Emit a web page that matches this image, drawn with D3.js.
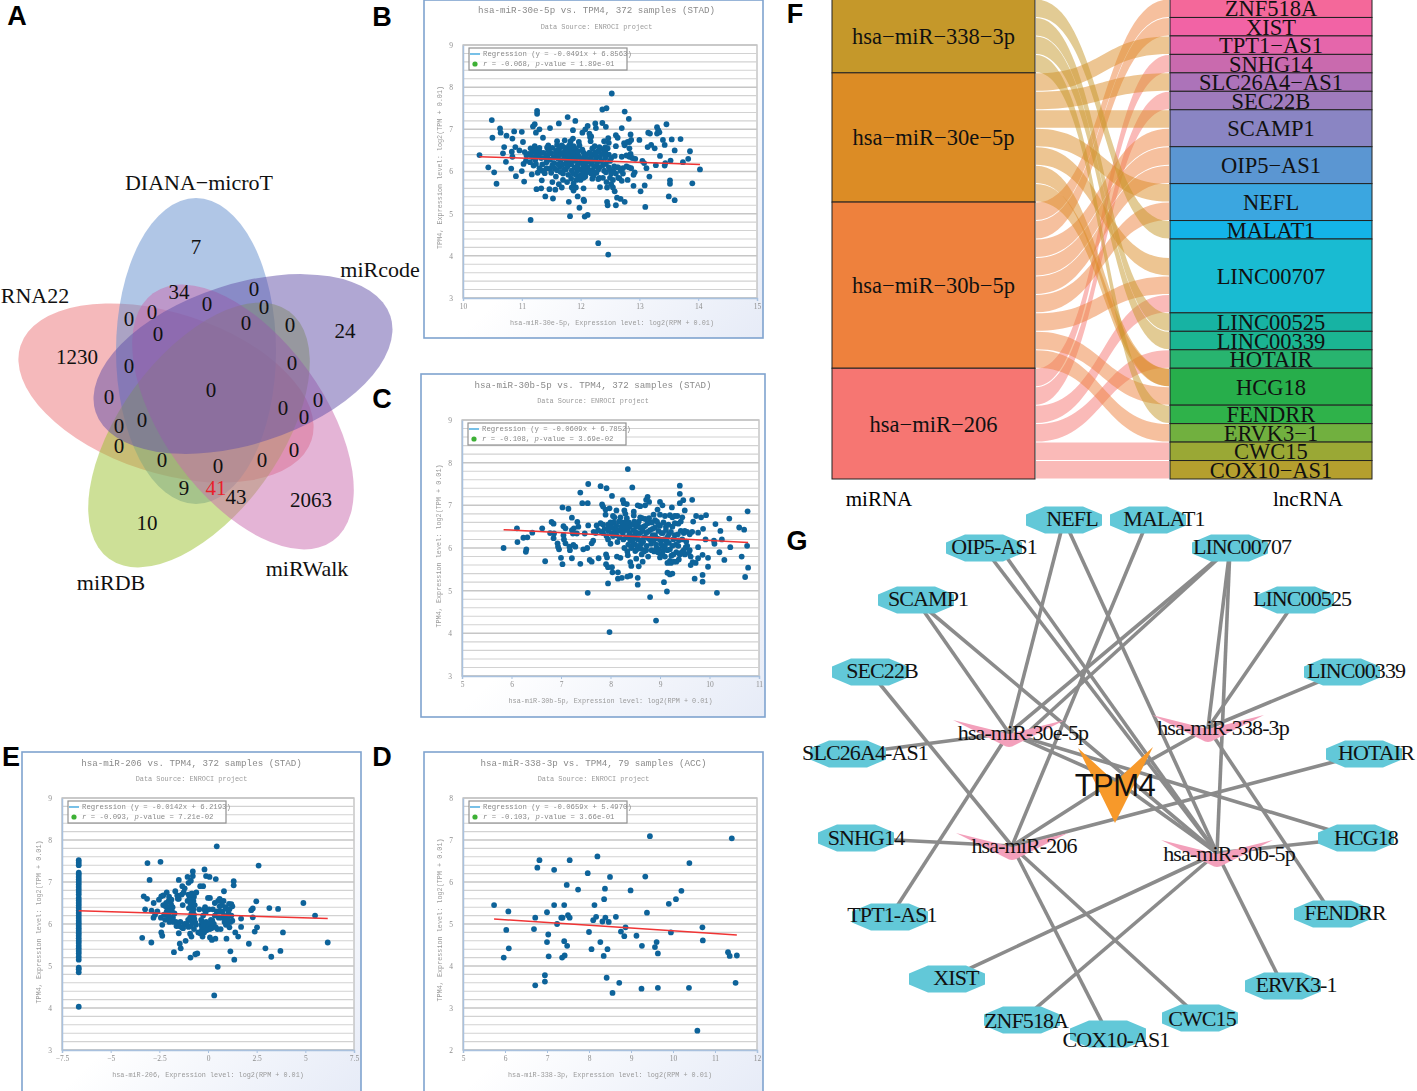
<!DOCTYPE html>
<html><head><meta charset="utf-8"><title>TPM4 ceRNA figure</title>
<script src="https://cdn.jsdelivr.net/npm/d3@7/dist/d3.min.js"></script>
<style>html,body{margin:0;padding:0;background:#fff}svg{display:block}</style></head>
<body><svg id="fig" width="1417" height="1091" viewBox="0 0 1417 1091"></svg>
<script>
// ---------- Venn ----------
const vennSets = ["RNA22","DIANA−microT","miRDB","miRWalk","miRcode"];
const vennColors = ["#eb7377","#618dcd","#9bc12f","#c969ad","#614fa7"];
const vennCounts = [7,34,0,0,0,0,0,0,0,0,24,1230,0,0,0,0,0,0,0,0,0,0,0,0,0,0,9,41,43,2063,10];

// ---------- Scatter values [x, y] ----------
const pointsB = [[10.28,6.39],[10.43,6.1],[10.53,5.98],[10.57,5.71],[10.49,7.22],[10.5,6.8],[10.63,7.02],[10.64,6.92],[10.74,6.85],[10.7,6.58],[10.68,6.43],[10.73,6.23],[10.82,6.07],[10.84,6.78],[10.87,6.95],[10.83,6.47],[10.84,6.35],[10.89,6.58],[10.9,5.89],[10.96,6.5],[11.0,6.94],[11.02,6.7],[11.0,6.01],[11.04,5.76],[11.05,6.46],[11.08,6.38],[11.03,6.18],[11.07,6.25],[11.15,4.85],[11.26,7.44],[11.26,7.37],[11.22,7.12],[11.19,7.07],[11.3,7.0],[11.24,6.92],[11.36,6.8],[11.48,7.03],[11.63,7.14],[11.78,7.29],[11.91,7.2],[11.87,6.98],[11.15,6.55],[11.18,6.47],[11.22,6.6],[11.25,6.4],[11.28,6.5],[11.32,6.45],[11.19,6.33],[11.23,6.28],[11.14,6.22],[11.2,6.14],[11.17,5.93],[11.27,5.97],[11.25,5.58],[11.33,5.6],[11.34,5.79],[11.39,5.96],[11.4,5.41],[11.35,6.17],[11.4,6.33],[11.43,6.57],[11.46,6.5],[11.5,6.43],[11.48,6.28],[11.52,6.15],[11.47,6.07],[11.5,5.97],[11.47,5.58],[11.53,5.36],[11.52,5.75],[11.57,5.57],[11.58,5.88],[11.6,6.03],[11.58,6.37],[11.6,6.5],[11.6,6.63],[11.6,6.72],[11.64,6.4],[11.66,6.27],[11.65,6.12],[11.66,5.99],[11.63,5.7],[11.68,5.62],[11.7,5.8],[11.72,6.35],[11.73,6.47],[11.71,6.58],[11.73,6.74],[11.76,6.22],[11.75,6.05],[11.77,5.75],[11.8,5.28],[11.82,4.94],[11.8,6.4],[11.82,6.5],[11.82,6.65],[11.85,6.34],[11.84,6.17],[11.85,6.02],[11.84,5.83],[11.85,5.62],[11.88,5.55],[11.87,6.78],[11.9,6.55],[11.9,6.42],[11.91,6.25],[11.9,6.1],[11.92,5.92],[11.93,5.8],[11.92,5.62],[11.95,5.41],[11.97,6.7],[11.98,5.14],[11.96,6.38],[11.98,6.2],[12.0,6.05],[12.0,5.92],[12.0,5.8],[12.03,6.92],[12.05,6.45],[12.04,6.3],[12.05,6.12],[12.05,5.99],[12.05,5.85],[12.05,5.6],[12.05,5.33],[12.07,4.93],[12.12,4.97],[12.06,5.3],[12.08,7.0],[12.12,7.08],[12.1,6.4],[12.13,6.25],[12.12,6.1],[12.1,5.97],[12.15,6.9],[12.18,6.83],[12.2,6.55],[12.18,6.35],[12.18,6.18],[12.2,6.03],[12.22,5.9],[12.2,5.83],[12.25,7.14],[12.26,7.03],[12.25,6.46],[12.26,6.28],[12.25,6.12],[12.27,5.97],[12.3,4.3],[12.3,5.82],[12.32,6.58],[12.33,6.35],[12.32,6.1],[12.33,5.63],[12.37,7.15],[12.37,7.47],[12.44,7.5],[12.38,6.53],[12.38,5.85],[12.4,6.72],[12.42,6.5],[12.42,6.32],[12.43,6.18],[12.43,5.98],[12.44,5.75],[12.45,5.62],[12.43,7.06],[12.47,4.03],[12.46,5.2],[12.45,5.28],[12.47,6.79],[12.48,6.4],[12.5,6.25],[12.5,6.04],[12.52,5.95],[12.53,7.85],[12.52,5.7],[12.55,5.62],[12.56,6.01],[12.58,5.53],[12.58,6.37],[12.6,6.6],[12.6,6.86],[12.6,5.2],[12.62,5.38],[12.63,6.8],[12.64,6.1],[12.66,5.84],[12.68,5.35],[12.7,6.35],[12.7,7.03],[12.72,5.95],[12.75,7.42],[12.74,6.67],[12.75,5.28],[12.78,6.12],[12.8,5.8],[12.82,7.25],[12.83,6.7],[12.83,6.55],[12.85,6.88],[12.85,6.42],[12.86,6.08],[12.9,5.92],[12.92,5.98],[12.93,6.3],[12.9,5.66],[13.0,6.75],[13.02,5.53],[13.05,6.25],[13.08,6.2],[13.1,5.16],[13.09,5.67],[13.12,6.08],[13.14,6.58],[13.15,6.92],[13.18,6.9],[13.17,5.88],[13.2,6.63],[13.26,6.55],[13.28,6.15],[13.3,6.9],[13.3,7.05],[13.32,6.98],[13.34,6.93],[13.35,6.37],[13.4,6.75],[13.43,6.63],[13.43,6.14],[13.44,6.2],[13.46,7.12],[13.5,5.41],[13.52,5.71],[13.52,5.79],[13.53,6.26],[13.55,6.76],[13.6,5.32],[13.6,6.5],[13.7,6.77],[13.74,6.22],[13.83,6.3],[13.86,6.48],[13.9,5.72],[14.03,6.05],
[11.12,6.42],[11.16,6.38],[11.22,6.52],[11.28,6.36],[11.3,6.56],[11.33,6.32],[11.37,6.44],[11.42,6.22],[11.44,6.38],[11.45,6.62],[11.52,6.56],[11.54,6.33],[11.55,6.2],[11.56,6.07],[11.58,6.47],[11.62,6.3],[11.62,6.17],[11.64,6.55],[11.67,6.44],[11.68,6.62],[11.7,6.17],[11.7,5.95],[11.72,6.05],[11.74,6.3],[11.76,6.54],[11.78,6.42],[11.78,6.12],[11.79,5.92],[11.8,6.6],[11.8,6.3],[11.82,6.22],[11.83,6.72],[11.86,6.45],[11.86,6.28],[11.87,5.95],[11.88,5.72],[11.88,6.6],[11.92,6.52],[11.93,6.33],[11.94,6.02],[11.95,6.15],[11.96,6.48],[11.97,5.85],[11.98,6.62],[12.0,6.32],[12.02,6.22],[12.03,6.52],[12.04,5.9],[12.06,6.07],[12.07,6.38],[12.08,5.88],[12.1,6.22],[12.12,6.3],[12.14,6.02],[12.15,6.45],[12.16,6.82],[12.17,6.72],[12.18,5.95],[12.2,6.25],[12.22,6.42],[12.23,6.12],[12.24,6.6],[12.26,6.38],[12.28,6.2],[12.3,6.05],[12.3,6.48],[12.32,5.85],[12.35,6.25],[12.36,6.42],[12.38,6.15],[12.4,6.02],[12.42,6.58],[12.44,6.4],[12.46,6.55],[12.48,6.1],[12.48,6.68],[12.5,5.85],[12.52,6.32],[12.55,5.8],[12.57,6.12],[12.6,5.95],[12.62,6.1],[12.64,5.85],[12.68,6.02],[12.7,5.78],[12.72,6.08],[12.75,6.62],[12.78,6.38],[12.8,6.7],[12.82,6.1],[12.83,6.35],[12.86,6.75],[12.88,6.32],[11.24,6.18],[11.3,6.08],[11.35,6.02],[11.42,6.08],[11.45,6.5]];
const pointsC = [[5.84,6.0],[6.11,6.46],[6.12,6.14],[6.24,6.24],[6.32,6.25],[6.3,5.97],[6.29,5.91],[6.42,6.36],[6.62,6.46],[6.68,5.69],[6.78,6.35],[6.81,6.61],[6.85,6.57],[6.86,6.34],[6.85,6.23],[6.93,6.11],[6.94,6.03],[6.96,5.97],[7.0,5.77],[7.03,5.62],[7.03,6.95],[7.15,6.92],[7.05,6.51],[7.09,6.46],[7.05,6.3],[7.06,6.2],[7.09,6.11],[7.17,6.03],[7.18,5.95],[7.25,6.07],[7.29,6.03],[7.22,6.71],[7.22,6.42],[7.26,6.46],[7.24,6.34],[7.33,6.61],[7.35,6.5],[7.32,6.34],[7.22,5.76],[7.39,5.63],[7.39,7.3],[7.43,7.05],[7.54,7.05],[7.55,7.5],[7.54,4.95],[7.45,5.97],[7.53,6.0],[7.55,6.53],[7.48,6.34],[7.58,5.72],[7.62,5.68],[7.62,6.11],[7.65,6.17],[7.66,6.38],[7.72,6.53],[7.76,5.76],[7.8,7.45],[7.8,6.58],[7.83,7.02],[7.85,6.97],[7.85,6.35],[7.9,6.9],[7.92,7.4],[7.9,6.78],[7.92,6.28],[7.91,5.85],[7.93,5.78],[7.91,5.62],[7.95,5.55],[7.95,6.55],[7.96,6.4],[7.95,5.17],[7.98,4.03],[7.98,6.93],[8.0,6.1],[8.02,6.35],[8.03,7.22],[8.03,5.55],[8.04,5.43],[8.05,6.75],[8.07,6.6],[8.08,6.45],[8.12,6.88],[8.12,6.3],[8.14,6.14],[8.13,5.8],[8.15,5.43],[8.15,5.28],[8.2,6.4],[8.2,5.77],[8.23,5.3],[8.2,6.72],[8.25,7.12],[8.27,7.05],[8.28,6.88],[8.27,6.55],[8.25,6.35],[8.28,6.0],[8.3,6.8],[8.33,6.7],[8.33,7.03],[8.35,7.85],[8.32,6.25],[8.34,5.92],[8.35,5.83],[8.34,5.33],[8.38,6.5],[8.38,6.35],[8.4,6.18],[8.4,5.67],[8.42,5.58],[8.4,5.35],[8.44,7.42],[8.47,6.85],[8.47,6.76],[8.46,6.42],[8.48,6.28],[8.5,6.08],[8.5,5.93],[8.52,5.75],[8.55,7.0],[8.55,6.55],[8.55,6.2],[8.55,5.3],[8.55,5.14],[8.57,5.57],[8.6,6.98],[8.6,6.72],[8.6,6.35],[8.62,6.1],[8.63,5.85],[8.65,5.68],[8.67,6.5],[8.68,6.25],[8.7,6.68],[8.7,7.0],[8.72,7.13],[8.73,6.05],[8.75,7.2],[8.75,6.38],[8.76,5.8],[8.78,7.08],[8.8,6.6],[8.8,6.2],[8.8,4.85],[8.83,5.95],[8.85,6.45],[8.87,6.78],[8.9,6.65],[8.9,6.3],[8.92,4.3],[8.93,6.0],[8.95,6.9],[8.96,5.9],[8.97,6.55],[9.0,7.08],[9.0,6.78],[9.0,6.2],[9.0,5.78],[9.03,5.85],[9.05,7.0],[9.06,6.35],[9.05,6.05],[9.07,5.95],[9.08,5.2],[9.1,6.75],[9.12,6.5],[9.14,4.98],[9.13,6.15],[9.15,5.65],[9.15,5.42],[9.18,6.32],[9.2,6.77],[9.2,5.97],[9.2,5.38],[9.22,5.65],[9.24,6.95],[9.25,6.5],[9.25,6.05],[9.25,5.4],[9.27,5.85],[9.3,6.3],[9.3,6.75],[9.33,5.68],[9.37,6.57],[9.37,6.05],[9.38,5.73],[9.4,7.46],[9.4,7.27],[9.4,7.05],[9.42,6.4],[9.44,5.9],[9.47,7.12],[9.45,6.72],[9.48,6.35],[9.5,6.88],[9.5,5.85],[9.53,6.15],[9.55,6.05],[9.6,6.32],[9.6,5.95],[9.62,5.8],[9.62,5.6],[9.65,7.13],[9.65,6.38],[9.66,5.67],[9.67,6.62],[9.7,5.28],[9.72,5.65],[9.73,6.75],[9.77,6.36],[9.77,6.02],[9.77,5.76],[9.83,6.72],[9.86,5.84],[9.86,5.37],[9.86,5.21],[9.87,6.45],[9.92,6.2],[9.93,6.77],[9.97,5.77],[9.97,5.56],[10.09,6.17],[10.1,6.1],[10.12,6.56],[10.15,4.95],[10.2,5.9],[10.22,6.4],[10.25,6.2],[10.3,5.72],[10.4,6.69],[10.42,6.02],[10.6,6.48],[10.65,5.8],[10.7,6.43],[10.72,5.32],[10.76,6.05],[10.77,6.86],[10.78,5.54],
[7.7,6.35],[7.75,6.42],[7.82,6.38],[7.85,6.55],[7.88,6.45],[7.95,6.2],[7.97,6.48],[8.0,6.6],[8.03,6.48],[8.05,6.28],[8.08,6.72],[8.1,6.38],[8.12,6.52],[8.15,6.42],[8.17,6.62],[8.18,6.25],[8.22,6.5],[8.24,6.6],[8.26,6.2],[8.29,6.42],[8.3,6.5],[8.32,6.62],[8.35,6.42],[8.36,6.08],[8.37,6.6],[8.4,6.3],[8.42,6.0],[8.44,6.55],[8.45,6.2],[8.46,6.1],[8.48,6.62],[8.5,6.38],[8.52,6.5],[8.53,5.97],[8.55,6.35],[8.57,6.62],[8.58,6.05],[8.6,6.48],[8.6,6.18],[8.62,5.98],[8.64,6.7],[8.65,6.4],[8.66,6.15],[8.68,5.92],[8.7,6.52],[8.72,6.35],[8.72,5.95],[8.75,6.58],[8.77,6.22],[8.78,6.7],[8.8,6.42],[8.82,6.1],[8.84,6.6],[8.85,6.3],[8.87,6.18],[8.88,5.92],[8.9,6.48],[8.92,6.08],[8.94,6.62],[8.95,6.22],[8.97,6.4],[8.98,5.97],[9.0,6.52],[9.02,6.1],[9.03,6.35],[9.05,5.85],[9.07,6.6],[9.08,6.2],[9.1,6.05],[9.1,5.8],[9.12,6.42],[9.15,6.25],[9.15,5.95],[9.17,6.55],[9.18,6.12],[9.2,5.7],[9.22,6.38],[9.23,5.82],[9.25,6.72],[9.27,6.2],[9.28,5.68],[9.3,6.58],[9.32,6.08],[9.33,5.9],[9.35,6.75],[9.36,6.32],[9.38,6.18],[9.4,5.85],[9.42,6.62],[9.45,6.2],[9.48,5.95],[9.5,6.4],[9.52,6.02],[9.55,6.38],[9.58,5.88]];
const pointsE = [[-3.11,7.45],[-2.44,7.48],[-3.0,7.05],[-3.3,6.66],[-3.13,6.6],[-2.79,6.5],[-3.23,6.35],[-2.9,6.32],[-3.38,5.67],[-2.91,5.56],[-2.8,6.15],[-2.72,6.22],[-2.6,6.3],[-2.52,6.58],[-2.4,6.66],[-2.3,6.68],[-2.12,6.75],[-2.42,6.15],[-2.35,5.98],[-2.4,5.8],[-2.35,5.72],[-2.18,6.42],[-2.12,6.3],[-2.02,6.55],[-2.05,6.4],[-2.0,6.2],[-1.98,6.05],[-1.9,6.47],[-1.85,6.3],[-1.8,6.15],[-1.75,5.33],[-1.68,6.78],[-1.65,6.05],[-1.58,6.68],[-1.55,5.98],[-1.5,7.05],[-1.5,6.6],[-1.5,5.78],[-1.45,5.53],[-1.4,5.42],[-1.35,5.92],[-1.32,6.9],[-1.3,6.45],[-1.25,6.75],[-1.2,6.85],[-1.15,5.6],[-1.1,6.0],[-1.05,7.12],[-1.0,6.98],[-1.0,6.7],[-1.0,5.93],[-0.95,6.1],[-0.92,6.15],[-0.92,5.77],[-0.9,5.2],[-0.88,7.03],[-0.85,5.7],[-0.85,6.72],[-0.82,6.58],[-0.8,6.4],[-0.78,6.3],[-0.78,7.14],[-0.78,7.25],[-0.75,6.55],[-0.72,6.22],[-0.72,5.88],[-0.65,6.03],[-0.65,5.28],[-0.6,6.75],[-0.55,5.3],[-0.5,5.8],[-0.45,6.35],[-0.4,6.9],[-0.35,5.98],[-0.32,5.85],[-0.3,6.05],[-0.28,5.7],[-0.25,6.9],[-0.2,5.8],[-0.18,7.3],[-0.15,6.4],[-0.12,6.28],[-0.1,5.9],[-0.1,7.14],[-0.05,6.0],[0.0,6.62],[0.02,5.88],[0.05,6.35],[0.08,7.12],[0.1,6.62],[0.1,5.68],[0.12,5.94],[0.15,6.1],[0.2,5.62],[0.22,6.08],[0.3,6.0],[0.32,4.3],[0.35,6.5],[0.38,5.65],[0.4,7.07],[0.45,7.85],[0.45,6.3],[0.48,5.88],[0.5,4.98],[0.52,6.55],[0.55,6.15],[0.6,6.6],[0.65,5.88],[0.7,6.15],[0.72,6.45],[0.8,6.55],[0.82,6.78],[0.85,6.05],[0.9,6.4],[0.95,5.65],[1.0,6.0],[1.05,6.25],[1.08,6.48],[1.1,5.92],[1.15,5.35],[1.2,6.47],[1.2,6.2],[1.25,6.08],[1.32,7.02],[1.32,6.92],[1.35,5.15],[1.4,5.8],[1.55,5.7],[1.7,6.13],[1.7,5.93],[2.1,5.53],[2.22,6.33],[2.3,6.37],[2.3,6.16],[2.4,5.82],[2.48,6.54],[2.52,5.92],[2.6,7.39],[2.95,5.42],[3.15,6.38],[3.25,5.22],[3.6,6.36],[3.72,5.36],[3.85,5.8],[4.9,6.5],[5.5,6.2],[6.15,5.56],
[-2.3,6.45],[-2.25,6.22],[-2.2,6.1],[-2.15,6.5],[-2.05,6.18],[-2.0,6.65],[-1.95,6.32],[-1.92,6.12],[-1.88,6.58],[-1.82,6.4],[-1.78,6.05],[-1.72,6.25],[-1.62,5.95],[-1.55,6.6],[-1.48,5.95],[-1.42,6.05],[-1.35,6.7],[-1.28,5.9],[-1.2,6.0],[-1.12,5.98],[-1.05,6.55],[-1.02,6.1],[-0.98,6.38],[-0.95,6.62],[-0.9,6.48],[-0.88,5.95],[-0.85,6.25],[-0.82,6.05],[-0.8,6.72],[-0.75,6.35],[-0.72,6.65],[-0.7,6.12],[-0.68,6.45],[-0.62,5.98],[-0.4,5.78],[-0.35,6.1],[-0.3,5.92],[-0.25,6.2],[-0.22,6.0],[-0.2,6.35],[-0.15,5.95],[-0.1,6.05],[-0.08,5.85],[0.0,5.98],[0.05,6.02],[0.1,5.88],[0.18,5.9],[0.25,6.35],[0.35,6.2],[0.4,5.92],[0.6,6.42],[0.62,6.3],[0.7,6.55],[0.75,6.3],[0.82,6.2],[0.9,6.08],[0.92,5.98],[1.0,6.35],[1.02,6.15],[1.1,6.35],[1.15,6.05],[1.25,6.42]];
const columnE = [4.03,4.85,4.92,4.96,5.15,5.22,5.3,5.36,5.42,5.48,5.55,5.6,5.66,5.72,5.78,5.84,5.9,5.96,6.02,6.08,6.14,6.2,6.26,6.32,6.38,6.44,6.5,6.56,6.62,6.7,6.76,6.82,6.88,6.94,7.0,7.06,7.12,7.18,7.22,7.4,7.46,7.52];
const pointsD = [[5.74,5.45],[6.08,5.3],[6.03,4.86],[6.09,4.42],[5.97,4.2],[6.82,6.52],[6.77,6.34],[6.72,5.15],[6.69,4.88],[6.72,3.54],[6.95,3.78],[6.95,3.63],[7.17,6.29],[7.54,6.52],[7.0,5.28],[7.17,5.45],[7.41,5.45],[7.03,4.75],[7.0,4.57],[7.04,4.23],[7.24,5.0],[7.34,5.15],[7.37,5.15],[7.5,5.21],[7.54,5.15],[7.41,4.59],[7.48,4.48],[7.42,4.25],[7.36,4.2],[7.47,5.93],[7.74,5.82],[7.97,6.21],[8.2,6.61],[8.5,6.12],[8.13,5.45],[8.38,5.84],[8.36,5.59],[8.17,5.17],[8.1,5.09],[8.39,5.15],[8.32,5.06],[8.47,5.05],[8.64,5.17],[8.0,4.81],[8.27,4.57],[8.06,4.4],[8.44,4.4],[8.35,4.24],[8.42,3.72],[8.72,3.6],[8.56,3.36],[8.87,4.92],[8.76,4.82],[8.84,4.71],[8.99,5.8],[9.13,4.72],[9.26,4.48],[9.25,3.46],[9.34,6.13],[9.45,7.09],[9.38,5.27],[9.57,4.45],[9.61,4.57],[9.64,4.3],[9.64,3.48],[9.9,5.48],[9.95,4.8],[10.07,5.59],[10.2,5.79],[10.39,6.45],[10.38,3.48],[10.58,2.46],[10.7,4.92],[10.71,4.61],[11.4,7.04],[11.31,4.33],[11.35,4.24],[11.52,4.25],[11.49,3.6]];
const seriesE = pointsE.concat(columnE.map(v => [-6.64, v]));

// ---------- Scatter texts and regressions ----------
const scatterNames = ["B","C","E","D"];
const scatterTitles = ["hsa-miR-30e-5p vs. TPM4, 372 samples (STAD)","hsa-miR-30b-5p vs. TPM4, 372 samples (STAD)","hsa-miR-206 vs. TPM4, 372 samples (STAD)","hsa-miR-338-3p vs. TPM4, 79 samples (ACC)"];
const scatterXTitles = ["hsa-miR-30e-5p, Expression level: log2(RPM + 0.01)","hsa-miR-30b-5p, Expression level: log2(RPM + 0.01)","hsa-miR-206, Expression level: log2(RPM + 0.01)","hsa-miR-338-3p, Expression level: log2(RPM + 0.01)"];
const regressionTexts = ["Regression (y = -0.0491x + 6.8563)","Regression (y = -0.0609x + 6.7852)","Regression (y = -0.0142x + 6.2193)","Regression (y = -0.0659x + 5.4970)"];
const corrTexts = ["= -0.068, p-value = 1.89e-01","= -0.108, p-value = 3.69e-02","= -0.093, p-value = 7.21e-02","= -0.103, p-value = 3.66e-01"];
const slopes = [-0.0491,-0.0609,-0.0142,-0.0659];
const intercepts = [6.8563,6.7852,6.2193,5.4970];
const xTickSets = [[10,11,12,13,14,15],[5,6,7,8,9,10,11],[-7.5,-5,-2.5,0,2.5,5,7.5],[5,6,7,8,9,10,11,12]];
const yTickSets = [[3,4,5,6,7,8,9],[3,4,5,6,7,8,9],[3,4,5,6,7,8,9],[2,3,4,5,6,7,8]];
const scatterSeries = [pointsB,pointsC,seriesE,pointsD];

// ---------- Sankey ----------
const mirnas = ["hsa−miR−338−3p","hsa−miR−30e−5p","hsa−miR−30b−5p","hsa−miR−206"];
const mirnaColors = ["#c5982a","#dc8c25","#ee813d","#f67672"];
const lncrnas = ["ZNF518A","XIST","TPT1−AS1","SNHG14","SLC26A4−AS1","SEC22B","SCAMP1","OIP5−AS1","NEFL","MALAT1","LINC00707","LINC00525","LINC00339","HOTAIR","HCG18","FENDRR","ERVK3−1","CWC15","COX10−AS1"];
const lncColors = ["#f4689a","#f263a5","#e566ab","#c96aae","#ac73b9","#9f7bbd","#8a85c3","#5b96d2","#3ba6e0","#14b4e8","#19bbd2","#17b3a3","#1bb592","#28b46f","#27ae4b","#2fb24a","#71b03f","#9aa835","#b59f2e"];
const lncSizes = [1,1,1,1,1,1,2,2,2,1,4,1,1,1,2,1,1,1,1];
const mirSizes = [4,7,9,6];
// flows as [miRNA index, unit row on the lncRNA side]; rows are read from the ribbons
const sankeyFlows = [
 [0,12],[0,17],[0,18],[0,22],
 [1,2],[1,4],[1,6],[1,10],[1,14],[1,20],[1,20],
 [2,0],[2,1],[2,7],[2,8],[2,9],[2,11],[2,15],[2,21],[2,23],
 [3,3],[3,5],[3,16],[3,19],[3,24],[3,25]];

// ---------- Network ----------
const netLnc = ["NEFL","MALAT1","OIP5-AS1","LINC00707","SCAMP1","LINC00525","SEC22B","LINC00339","SLC26A4-AS1","HOTAIR","SNHG14","HCG18","TPT1-AS1","FENDRR","XIST","ERVK3-1","ZNF518A","CWC15","COX10-AS1"];
const netMir = ["hsa-miR-30e-5p","hsa-miR-338-3p","hsa-miR-206","hsa-miR-30b-5p"];
const netEdges = [
 ["NEFL","hsa-miR-30e-5p"],["NEFL","hsa-miR-30b-5p"],["MALAT1","hsa-miR-206"],["OIP5-AS1","hsa-miR-30b-5p"],["OIP5-AS1","hsa-miR-30b-5p"],
 ["LINC00707","hsa-miR-30e-5p"],["LINC00707","hsa-miR-30e-5p"],["LINC00707","hsa-miR-338-3p"],["LINC00707","hsa-miR-30b-5p"],
 ["SCAMP1","hsa-miR-30e-5p"],["SCAMP1","hsa-miR-30b-5p"],["LINC00525","hsa-miR-338-3p"],["SEC22B","hsa-miR-206"],["LINC00339","hsa-miR-338-3p"],
 ["SLC26A4-AS1","hsa-miR-30e-5p"],["HOTAIR","hsa-miR-206"],["SNHG14","hsa-miR-206"],["HCG18","hsa-miR-30b-5p"],["HCG18","hsa-miR-30e-5p"],
 ["TPT1-AS1","hsa-miR-30e-5p"],["FENDRR","hsa-miR-338-3p"],["XIST","hsa-miR-30b-5p"],["ERVK3-1","hsa-miR-30b-5p"],["ZNF518A","hsa-miR-30b-5p"],
 ["CWC15","hsa-miR-206"],["COX10-AS1","hsa-miR-206"],
 ["TPM4","hsa-miR-30e-5p"],["TPM4","hsa-miR-338-3p"],["TPM4","hsa-miR-206"],["TPM4","hsa-miR-30b-5p"]];

// ============ layout (separate from the values) ============
const svg = d3.select("#fig");
const defs = svg.append("defs");
const blur = defs.append("filter").attr("id","soft").attr("x","-2%").attr("y","-2%").attr("width","104%").attr("height","104%");
blur.append("feGaussianBlur").attr("stdDeviation",0.42);
const grad = defs.append("linearGradient").attr("id","pg").attr("x1",0).attr("y1",0).attr("x2",1).attr("y2",1);
grad.append("stop").attr("offset","55%").attr("stop-color","#ffffff");
grad.append("stop").attr("offset","100%").attr("stop-color","#e6ebf7");

const serif = "'Liberation Serif',serif", sans = "'Liberation Sans',sans-serif", mono = "'Liberation Mono',monospace";

[["A",17,16],["B",382,17],["C",382,399],["E",11,757],["D",382,757],["F",795,14],["G",797,541]].forEach(([t,x,y]) =>
  svg.append("text").attr("x",x).attr("y",y).attr("text-anchor","middle").attr("dominant-baseline","central")
     .attr("font-family",sans).attr("font-weight","bold").attr("font-size",27).text(t));

// Venn
const vennG = svg.append("g");
const vennShape = [[166,393,153,80,18],[196,351,80,153,0],[199,435,80,153,36],[243,417,80,153,-36],[243,364,155,80,-18]];
vennG.selectAll("ellipse").data(vennSets).join("ellipse")
  .attr("rx",(d,i)=>vennShape[i][2]).attr("ry",(d,i)=>vennShape[i][3])
  .attr("transform",(d,i)=>`translate(${vennShape[i][0]},${vennShape[i][1]}) rotate(${vennShape[i][4]})`)
  .attr("fill",(d,i)=>vennColors[i]).attr("fill-opacity",0.5);
const vennCountPos = [[196,247],[179,292],[152,312],[129,319],[158,334],[207,304],[254,289],[264,307],[246,323],[290,325],[345,331],[77,357],[129,366],[292,363],[109,397],[211,390],[318,400],[283,408],[304,417],[119,426],[142,420],[119,446],[162,460],[218,466],[262,460],[294,450],[184,488],[216,488],[236,497],[311,500],[147,523]];
vennG.selectAll("text.c").data(vennCounts).join("text").attr("class","c")
  .attr("x",(d,i)=>vennCountPos[i][0]).attr("y",(d,i)=>vennCountPos[i][1])
  .attr("text-anchor","middle").attr("dominant-baseline","central")
  .attr("font-family",serif).attr("font-size",21).attr("fill",d=>d===41?"#e8202a":"#111").text(d=>d);
const vennLabelPos = [[35,295],[199,182],[111,582],[307,568],[380,269]];
vennG.selectAll("text.l").data(vennSets).join("text").attr("class","l")
  .attr("x",(d,i)=>vennLabelPos[i][0]).attr("y",(d,i)=>vennLabelPos[i][1])
  .attr("text-anchor","middle").attr("dominant-baseline","central")
  .attr("font-family",serif).attr("font-size",22).attr("fill","#111").text(d=>d);

// Scatter panels
const frames = {B:[424,0,339,338,463,757,45,298],C:[421,374,344,343,462,759,420,676],E:[22,752,339,345,62,354,798,1050],D:[424,752,339,345,463,757,798,1050]};
scatterNames.forEach((name,k)=>{
  const [fx,fy,fw,fh,pl,pr,pt,pb] = frames[name];
  const xT = xTickSets[k], yT = yTickSets[k];
  const x = d3.scaleLinear().domain(d3.extent(xT)).range([pl,pr]);
  const y = d3.scaleLinear().domain(d3.extent(yT)).range([pb,pt]);
  const g = svg.append("g").attr("filter","url(#soft)");
  g.append("rect").attr("x",fx).attr("y",fy).attr("width",fw).attr("height",fh).attr("fill","url(#pg)").attr("stroke","#7fa3cf").attr("stroke-width",1.6);
  g.append("rect").attr("x",pl).attr("y",pt).attr("width",pr-pl).attr("height",pb-pt).attr("fill","#fff").attr("stroke","#bdbdbd").attr("stroke-width",1.3);
  const minor = d3.range(yT[0],yT[yT.length-1]+0.01,0.2);
  g.selectAll("line.grid").data(minor).join("line").attr("class","grid")
    .attr("x1",pl).attr("x2",pr).attr("y1",d=>y(d)).attr("y2",d=>y(d))
    .attr("stroke",(d)=>Math.abs(d-Math.round(d))<1e-6?"#c6c6c6":"#d2d2d2").attr("stroke-width",d=>Math.abs(d-Math.round(d))<1e-6?1.5:1.1);
  const ax = g.append("g").attr("transform",`translate(0,${pb})`).call(d3.axisBottom(x).tickValues(xT).tickSize(3).tickFormat(d3.format("~g")));
  const ay = g.append("g").attr("transform",`translate(${pl},0)`).call(d3.axisLeft(y).tickValues(yT).tickSize(0).tickPadding(10).tickFormat(d3.format("~g")));
  [ax,ay].forEach(a=>{
    a.selectAll("path").attr("stroke","#a9c1de").attr("stroke-width",1.5);
    a.selectAll("line").attr("stroke","#a9c1de");
    a.selectAll("text").attr("font-family",serif).attr("font-size",7.5).attr("fill","#8f8f8f");
  });
  const cx = (pl+pr)/2;
  const t = (s,tx,ty,fs,col,anchor)=>g.append("text").attr("x",tx).attr("y",ty).attr("font-family",mono).attr("font-size",fs).attr("fill",col).attr("text-anchor",anchor||"middle").attr("dominant-baseline","central").text(s);
  t(scatterTitles[k],fx+fw/2+(name==="B"?3:0),fy+(name==="B"?10:11),9.2,"#8a8a8a");
  t("Data Source: ENROCI project",fx+fw/2+(name==="B"?3:0),fy+(name==="B"?27:26.5),6.9,"#9a9a9a");
  t(scatterXTitles[k],cx+(name==="B"?2:0),pb+25,6.8,"#9a9a9a");
  g.append("text").attr("transform",`translate(${pl-23},${(pt+pb)/2+(name==="B"||name==="D"?-4:-2)}) rotate(-90)`)
    .attr("font-family",mono).attr("font-size",6.8).attr("fill","#9a9a9a").attr("text-anchor","middle").attr("dominant-baseline","central")
    .text("TPM4, Expression level: log2(TPM + 0.01)");
  const pts = scatterSeries[k];
  g.append("g").selectAll("circle").data(pts).join("circle")
    .attr("cx",d=>x(d[0])).attr("cy",d=>y(d[1])).attr("r",2.9).attr("fill","#11649a");
  const xe = d3.extent(pts,d=>d[0]);
  const line = d3.line().x(d=>x(d)).y(d=>y(slopes[k]*d+intercepts[k]));
  g.append("path").attr("d",line(xe)).attr("fill","none").attr("stroke","#f03434").attr("stroke-width",1.5);
  const lx = pl+6, ly = pt+3;
  g.append("rect").attr("x",lx).attr("y",ly).attr("width",158).attr("height",22).attr("fill","#fff").attr("fill-opacity",0.85).attr("stroke","#929292").attr("stroke-width",1.2);
  g.append("line").attr("x1",lx+1).attr("x2",lx+11).attr("y1",ly+6).attr("y2",ly+6).attr("stroke","#2f9fdc").attr("stroke-width",1.3);
  g.append("circle").attr("cx",lx+6).attr("cy",ly+16).attr("r",2.6).attr("fill","#3cb034");
  t(regressionTexts[k],lx+14,ly+6,7.3,"#8a8a8a","start");
  g.append("text").attr("x",lx+14).attr("y",ly+16).attr("font-family",mono).attr("font-size",7.3).attr("fill","#8a8a8a").attr("dominant-baseline","central")
   .html(`<tspan font-style="italic">r</tspan> ${corrTexts[k].replace("p-value",'<tspan font-style="italic">p</tspan>-value')}`);
});

// Sankey
const slotY = d3.scaleLinear().domain([0,26]).range([-1,479]);
const sk = svg.append("g");
const cum = a => a.reduce((o,v)=>(o.push(o[o.length-1]+v),o),[0]);
const leftStart = cum(mirSizes), rightStart = cum(lncSizes);
const flowX = d3.scaleLinear().domain([0,1]).range([1036,1169]);
const leftUsed = mirnas.map(()=>0);
const flows = sankeyFlows.map(([a,e])=>({a,s:leftStart[a]+leftUsed[a]++,e}));
const area = d3.area().x(d=>flowX(d.t)).y0(d=>slotY(d.u)+0.5).y1(d=>slotY(d.u+1)-0.5).curve(d3.curveBumpX);
sk.selectAll("path").data(flows.slice().sort((p,q)=>q.a-p.a)).join("path")
  .attr("d",f=>area([{t:0,u:f.s},{t:1,u:f.e}]))
  .attr("fill",f=>mirnaColors[f.a]).attr("fill-opacity",0.5);
const drawNodes = (names,colors,starts,x0,x1,fs) => {
  const gs = sk.append("g");
  gs.selectAll("rect").data(names).join("rect")
    .attr("x",x0).attr("width",x1-x0)
    .attr("y",(d,i)=>slotY(starts[i])).attr("height",(d,i)=>slotY(starts[i+1])-slotY(starts[i]))
    .attr("fill",(d,i)=>colors[i]).attr("stroke","#222").attr("stroke-width",1);
  gs.selectAll("text").data(names).join("text")
    .attr("x",(x0+x1)/2).attr("y",(d,i)=>(slotY(starts[i])+slotY(starts[i+1]))/2+0.5)
    .attr("text-anchor","middle").attr("dominant-baseline","central")
    .attr("font-family",serif).attr("font-size",fs).attr("fill","#111").text(d=>d);
};
drawNodes(mirnas,mirnaColors,leftStart,832,1035,22.5);
drawNodes(lncrnas,lncColors,rightStart,1170,1372,22.5);
sk.append("text").attr("x",879).attr("y",499).attr("text-anchor","middle").attr("dominant-baseline","central").attr("font-family",serif).attr("font-size",21).text("miRNA");
sk.append("text").attr("x",1308).attr("y",499).attr("text-anchor","middle").attr("dominant-baseline","central").attr("font-family",serif).attr("font-size",21).text("lncRNA");

// Network
const nodePos = {
 "NEFL":[1064,520,1072,518],"MALAT1":[1148,520,1164,518],"OIP5-AS1":[984,548,994,546],"LINC00707":[1230,548,1242,546],
 "SCAMP1":[916,600,928,598],"LINC00525":[1296,600,1302,598],"SEC22B":[870,672,882,670],"LINC00339":[1342,672,1356,670],
 "SLC26A4-AS1":[848,754,865,752],"HOTAIR":[1364,754,1376,752],"SNHG14":[856,838,866,837],"HCG18":[1356,838,1366,837],
 "TPT1-AS1":[890,917,892,914],"FENDRR":[1332,914,1345,912],"XIST":[947,979,956,977],"ERVK3-1":[1283,986,1296,984],
 "ZNF518A":[1022,1020,1026,1020],"CWC15":[1200,1018,1202,1018],"COX10-AS1":[1108,1034,1116,1039],
 "hsa-miR-30e-5p":[1009,733,1023,732],"hsa-miR-338-3p":[1208,728,1223,727],"hsa-miR-206":[1012,846,1024,845],"hsa-miR-30b-5p":[1217,853,1229,853],
 "TPM4":[1115,780,1115,785]};
const net = svg.append("g");
const seen = {};
const edgeGeom = netEdges.map(d=>{
  const key=d.join(); const rep=seen[key]||0; seen[key]=rep+1;
  const sx = d[0]==="OIP5-AS1"?rep*16:0, tx = d[0]==="LINC00707"?rep*18:0;
  return {x1:nodePos[d[0]][0]+sx,y1:nodePos[d[0]][1],x2:nodePos[d[1]][0]+tx,y2:nodePos[d[1]][1]};
});
net.append("g").selectAll("line").data(edgeGeom).join("line")
  .attr("x1",d=>d.x1).attr("y1",d=>d.y1).attr("x2",d=>d.x2).attr("y2",d=>d.y2)
  .attr("stroke","#8b8b8b").attr("stroke-width",3.6);
const octagon = d3.line().curve(d3.curveLinearClosed);
const octX = d3.scaleLinear().domain([-1,1]).range([-38,38]), octY = d3.scaleLinear().domain([-1,1]).range([-13.5,13.5]);
const octUnit = [[-0.5,-1],[0.5,-1],[1,-0.4],[1,0.4],[0.5,1],[-0.5,1],[-1,0.4],[-1,-0.4]];
net.append("g").selectAll("path").data(netLnc).join("path")
  .attr("transform",d=>`translate(${nodePos[d][0]},${nodePos[d][1]})`)
  .attr("d",octagon(octUnit.map(p=>[octX(p[0]),octY(p[1])])))
  .attr("fill","#62c8d8");
const chevUnit = [[-56,-13],[0,1],[56,-13],[3,13.5],[0,14],[-3,13.5]];
net.append("g").selectAll("path").data(netMir).join("path")
  .attr("transform",d=>`translate(${nodePos[d][0]},${nodePos[d][1]})`)
  .attr("d",octagon(chevUnit)).attr("fill","#f3a0bb");
net.append("path").attr("transform",`translate(${nodePos.TPM4[0]},${nodePos.TPM4[1]})`)
  .attr("d",octagon([[-37,-32],[0,2],[38,-33],[0,43]])).attr("fill","#f7992a");
net.append("g").selectAll("text").data(netLnc.concat(netMir)).join("text")
  .attr("x",d=>nodePos[d][2]).attr("y",d=>nodePos[d][3])
  .attr("text-anchor","middle").attr("dominant-baseline","central")
  .attr("font-family",serif).attr("font-size",22).attr("letter-spacing",-0.9).attr("fill","#111").text(d=>d);
net.append("text").attr("x",nodePos.TPM4[2]).attr("y",nodePos.TPM4[3]).attr("text-anchor","middle").attr("dominant-baseline","central")
  .attr("font-family",sans).attr("font-size",31).attr("letter-spacing",-0.5).attr("fill","#111").text("TPM4");
</script></body></html>
